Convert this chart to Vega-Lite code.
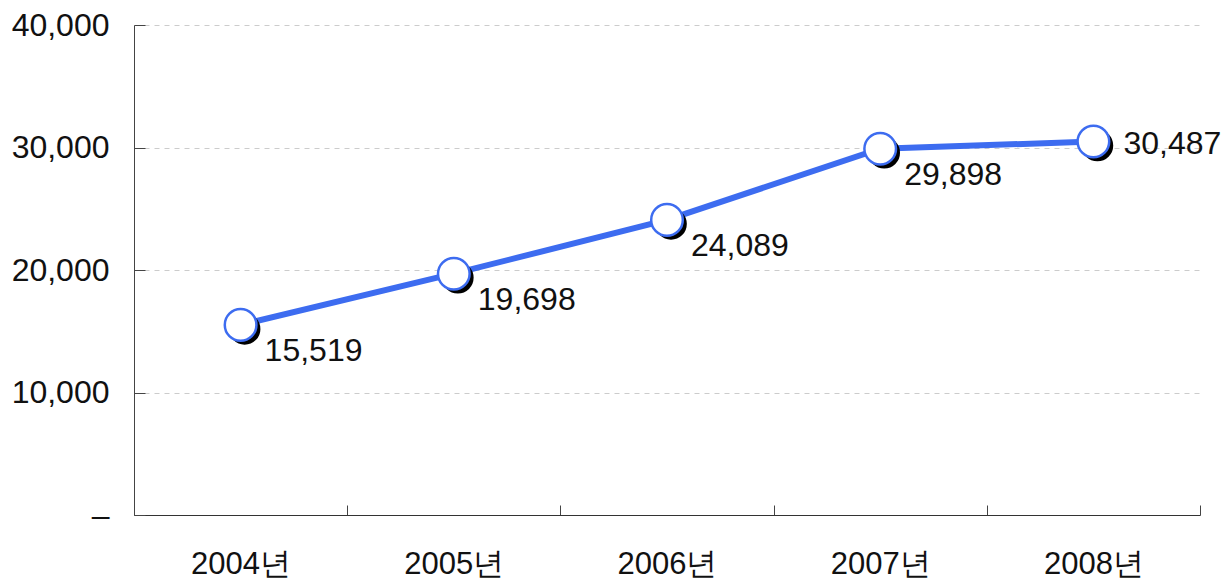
{
  "$schema": "https://vega.github.io/schema/vega-lite/v6.json",
  "width": 1066,
  "height": 490,
  "autosize": {"type": "none"},
  "padding": {"left": 134, "top": 25, "right": 32, "bottom": 64},
  "background": "white",
  "config": {"view": {"stroke": null}, "font": "Liberation Sans"},
  "data": {
    "values": [
      {"year": "2004년", "value": 15519},
      {"year": "2005년", "value": 19698},
      {"year": "2006년", "value": 24089},
      {"year": "2007년", "value": 29898},
      {"year": "2008년", "value": 30487}
    ]
  },
  "encoding": {
    "x": {
      "field": "year",
      "type": "ordinal",
      "bandPosition": 0.5,
      "scale": {"type": "band", "paddingInner": 0, "paddingOuter": 0},
      "axis": {
        "title": null,
        "labelAngle": 0,
        "tickBand": "extent",
        "tickSize": -10,
        "tickColor": "#444",
        "domainColor": "#333",
        "labelFontSize": 31,
        "labelColor": "#111",
        "labelPadding": 44,
        "grid": false
      }
    },
    "y": {
      "field": "value",
      "type": "quantitative",
      "scale": {"domain": [0, 40000], "nice": false},
      "axis": {
        "title": null,
        "values": [0, 10000, 20000, 30000, 40000],
        "labelExpr": "datum.value == 0 ? '–' : format(datum.value, ',')",
        "tickSize": -11,
        "tickColor": "#444",
        "domainColor": "#444",
        "labelFontSize": 32,
        "labelColor": "#111",
        "labelPadding": 36,
        "grid": true,
        "gridDash": [5, 5],
        "gridColor": "#cccccc"
      }
    }
  },
  "layer": [
    {"mark": {"type": "line", "color": "#3d6cf0", "strokeWidth": 6}},
    {"mark": {"type": "point", "filled": true, "color": "black", "size": 1000, "xOffset": 4, "yOffset": 4, "opacity": 1}},
    {"mark": {"type": "point", "filled": true, "fill": "white", "stroke": "#3d6cf0", "strokeWidth": 2.5, "size": 1000, "opacity": 1}},
    {
      "transform": [{"filter": "datum.year != '2008년'"}],
      "mark": {"type": "text", "align": "left", "baseline": "middle", "dx": 24, "dy": 26, "fontSize": 32, "color": "#111"},
      "encoding": {"text": {"field": "value", "type": "quantitative", "format": ","}}
    },
    {
      "transform": [{"filter": "datum.year == '2008년'"}],
      "mark": {"type": "text", "align": "left", "baseline": "middle", "dx": 30, "dy": 2, "fontSize": 32, "color": "#111"},
      "encoding": {"text": {"field": "value", "type": "quantitative", "format": ","}}
    }
  ]
}
